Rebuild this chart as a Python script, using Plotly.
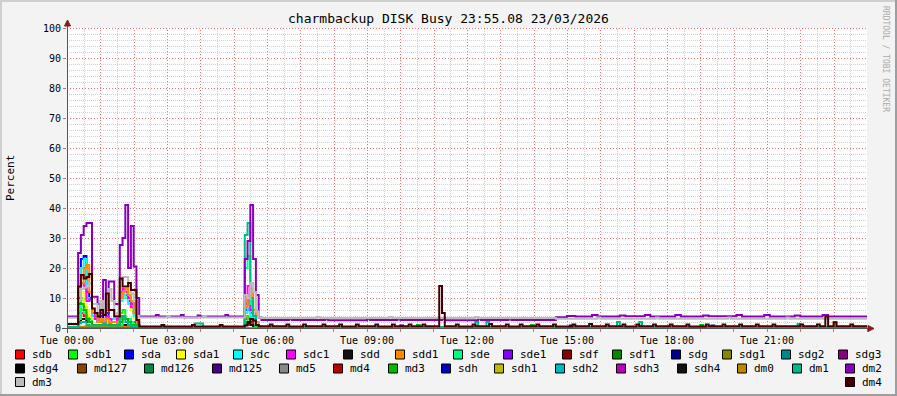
import plotly.graph_objects as go

# ---------------- data (5-minute steps, 288 per day) ----------------
STEP_MINUTES = 5
N_STEPS = 288

x_tick_hours = [0, 3, 6, 9, 12, 15, 18, 21]
x_tick_labels = ["Tue 00:00", "Tue 03:00", "Tue 06:00", "Tue 09:00",
                 "Tue 12:00", "Tue 15:00", "Tue 18:00", "Tue 21:00"]
y_tick_values = [0, 10, 20, 30, 40, 50, 60, 70, 80, 90, 100]

series_names = ["sdb", "sdb1", "sda", "sda1", "sdc", "sdc1", "sdd", "sdd1",
                "sde", "sde1", "sdf", "sdf1", "sdg", "sdg1", "sdg2", "sdg3",
                "sdg4", "md127", "md126", "md125", "md5", "md4", "md3", "sdh",
                "sdh1", "sdh2", "sdh3", "sdh4", "dm0", "dm1", "dm2", "dm3", "dm4"]
series_colors = ["#FF0000", "#00FF00", "#0000FF", "#FFFF00", "#00FFFF", "#FF00FF", "#111111", "#FF8800",
                 "#00FF88", "#8800FF", "#880000", "#008800", "#000088", "#888800", "#008888", "#880088",
                 "#000000", "#884400", "#008844", "#440088", "#888888", "#BB0000", "#00BB00", "#0000BB",
                 "#BBBB00", "#00BBBB", "#BB00BB", "#111111", "#BB8800", "#00BB88", "#8800BB", "#BBBBBB", "#440000"]

# run-length encoded values: [number of 5-min steps, percent]
sdb_runs = [[4, 0], [1, 3], [1, 5], [1, 4], [2, 2], [10, 1], [1, 4], [2, 3], [3, 1], [1, 0],
            [38, 0], [1, 3], [1, 4], [1, 2], [3, 0.5], [218, 0]]
sdb1_runs = [[4, 0.2], [1, 5], [1, 10], [1, 7], [1, 4], [1, 3], [3, 1], [1, 2], [2, 1], [1, 1.5], [3, 0.8],
             [1, 5], [1, 6], [2, 3], [1, 2], [2, 0.5], [38, 0], [1, 2], [1, 4], [1, 1], [3, 0.3], [218, 0]]
sda_runs = [[4, 0], [1, 8], [1, 23], [1, 24], [1, 12], [1, 10], [2, 4], [1, 2], [1, 4], [1, 2], [1, 5], [3, 3],
            [1, 1], [1, 10], [1, 12], [1, 11], [1, 9], [1, 8], [1, 5], [1, 1], [38, 0],
            [1, 6], [1, 9], [1, 5], [1, 4], [1, 1], [1, 0.3], [218, 0]]
sda1_runs = [[4, 0], [1, 10], [1, 12], [1, 8], [1, 6], [1, 4], [2, 3], [1, 1], [1, 3], [1, 2], [1, 4], [3, 2],
             [1, 1], [1, 14], [1, 12], [1, 10], [1, 8], [1, 6], [1, 3], [1, 1], [38, 0],
             [1, 11], [1, 7], [1, 4], [1, 3], [1, 1], [1, 0], [218, 0]]
sdc_runs = [[4, 0], [1, 7], [1, 20], [1, 23], [1, 10], [1, 9], [2, 4], [1, 2], [1, 3], [1, 2], [1, 4], [3, 3],
            [1, 1], [1, 9], [1, 11], [1, 10], [1, 8], [1, 7], [1, 4], [1, 1], [38, 0],
            [1, 5], [1, 8], [1, 4], [1, 3], [1, 1], [1, 0.3], [218, 0]]
sdc1_runs = [[4, 0], [1, 10], [1, 15], [1, 14], [1, 9], [1, 9.5], [1, 5], [1, 3], [1, 2], [1, 3], [1, 2], [1, 4],
             [1, 3], [1, 2], [1, 2], [1, 3], [1, 12], [1, 13], [1, 12], [1, 10], [1, 7], [1, 9], [1, 2],
             [38, 0], [1, 8], [1, 14], [1, 6], [1, 4], [1, 1], [1, 0], [218, 0]]
sdd_runs = [[4, 0], [1, 2], [2, 3], [2, 2], [13, 1], [3, 2], [1, 0.5], [38, 0],
            [1, 1], [1, 2], [1, 1], [3, 0], [218, 0]]
sdd1_runs = [[4, 0], [1, 9], [1, 15], [1, 20], [1, 21], [1, 12], [2, 5], [1, 2], [1, 3], [1, 2], [1, 3], [3, 2],
             [1, 1], [1, 10], [1, 12], [1, 13], [1, 11], [1, 9], [1, 5], [1, 1], [38, 0],
             [1, 7], [1, 10], [1, 13], [1, 6], [1, 2], [1, 0], [218, 0]]
sde_runs = [[4, 0.2], [1, 3], [1, 6], [1, 5], [1, 3], [1, 2], [11, 1], [3, 3], [1, 2], [1, 1], [1, 0.5],
            [38, 0.2], [1, 20], [1, 24], [1, 8], [1, 4], [1, 1], [1, 0.2], [218, 0.2]]
sde1_runs = [[288, 0]]
sdf_runs = [[288, 0]]
sdf1_runs = [[288, 0]]
sdg_runs = [[288, 0]]
sdg1_runs = [[288, 0]]
sdg2_runs = [[288, 0]]
sdg3_runs = [[288, 0]]
sdg4_runs = [[288, 0]]
md127_runs = [[288, 0]]
md126_runs = [[288, 0]]
md125_runs = [[288, 0]]
md5_runs = [[288, 0]]
md4_runs = [[288, 0]]
md3_runs = [[4, 0], [1, 10], [1, 8], [1, 6], [1, 3], [1, 2], [10, 1], [1, 2], [1, 3.8], [1, 3], [1, 2], [3, 1],
            [100, 0], [1, 1], [40, 0], [1, 1], [60, 0], [1, 1], [59, 0]]
sdh_runs = [[120, 0], [1, 0.8], [60, 0], [1, 0.8], [50, 0], [1, 0.8], [55, 0]]
sdh1_runs = [[288, 0]]
sdh2_runs = [[288, 0]]
sdh3_runs = [[288, 0]]
sdh4_runs = [[288, 0]]
dm0_runs = [[26, 0.4], [250, 0], [1, 1.9], [11, 0]]
dm1_runs = [[4, 0.3],
            [1, 1.5], [2, 2], [1, 1], [5, 0.8], [1, 1.5], [5, 0.8], [2, 3.8], [1, 2], [1, 1], [3, 0.6],
            [20, 0.3], [3, 1.5], [15, 0.3],
            [1, 31], [1, 35], [1, 10], [1, 4], [1, 1], [1, 0.3],
            [77, 0.3], [1, 2], [3, 0.3], [1, 2], [24, 0.3],
            [22, 0.3], [1, 2], [7, 0.3], [1, 2], [56, 0.3], [1, 1.3], [24, 0.3]]
dm2_runs = [[4, 3.8], [1, 25], [1, 31], [1, 34], [2, 35], [2, 10.4], [1, 8], [1, 5], [1, 16], [1, 5],
            [2, 15.5], [2, 8], [1, 27.7], [1, 30], [1, 41], [1, 20], [1, 34], [1, 20.5], [1, 10],
            [6, 3.8], [1, 4.3], [8, 3.8], [1, 4.3], [5, 3.6], [1, 4.2], [9, 3.8], [1, 4.3], [5, 3.8],
            [1, 3.8], [1, 23], [1, 29], [1, 41], [1, 23], [1, 11], [1, 3.5],
            [10, 2.7], [1, 3.1], [12, 2.7], [1, 3.1], [14, 2.6], [1, 3.1], [10, 2.7], [1, 3.2], [15, 2.7],
            [1, 3.1], [12, 2.6], [1, 3.1], [10, 2.7], [1, 3.2], [16, 2.7],
            [4, 3.6], [3, 4.0], [6, 3.8], [2, 4.3], [8, 3.8], [2, 4.2], [7, 3.9], [2, 4.3], [9, 3.8],
            [2, 4.3], [8, 3.8], [2, 4.2], [10, 3.9], [2, 4.3], [8, 3.8], [2, 4.3], [9, 3.8], [2, 4.2],
            [8, 3.8], [2, 4.3], [14, 3.8]]
dm3_runs = [[4, 3.4],
            [1, 9], [1, 13], [1, 13.5], [1, 14], [1, 15], [2, 8], [1, 4], [1, 9], [1, 5], [1, 9], [1, 13],
            [1, 9], [1, 4], [1, 5], [1, 16], [2, 17], [1, 14], [1, 11.5], [1, 9], [1, 4],
            [10, 3.5], [1, 3.9], [12, 3.5], [1, 3.9], [14, 3.5],
            [1, 11], [1, 10], [1, 15], [1, 12], [1, 5.5], [1, 3.6],
            [20, 3.3], [1, 3.7], [25, 3.3], [1, 3.7], [30, 3.3], [1, 3.7], [28, 3.3],
            [15, 3.1], [1, 3.5], [20, 3.1], [1, 3.5], [25, 3.1], [1, 3.5], [20, 3.1], [1, 3.5], [28, 3.1]]
dm4_runs = [[4, 1.3],
            [1, 13.8], [1, 17.7], [1, 16.5], [1, 17], [1, 18], [1, 6.5], [1, 5], [1, 3.8], [1, 6], [1, 4.3],
            [1, 11.5], [2, 6], [2, 3.8], [1, 16.5], [2, 13.8], [1, 15], [2, 12.7], [1, 2.7],
            [8, 0.5], [1, 1], [10, 0.5], [1, 1], [9, 0.5], [1, 1], [8, 0.5],
            [1, 0.8], [1, 1.5], [1, 3], [1, 2.5], [1, 1], [1, 0.6],
            [3, 0.6], [1, 1.2], [5, 0.6], [1, 1.2], [5, 0.5], [1, 1.2], [6, 0.6], [1, 1.2], [5, 0.6], [1, 1.2],
            [5, 0.5], [1, 1.2], [6, 0.6], [1, 1.2], [5, 0.5], [1, 1.2], [5, 0.6], [1, 1.2], [4, 0.6], [1, 1.2],
            [5, 0.6],
            [1, 14], [1, 5],
            [4, 0.6], [1, 1.2], [5, 0.5], [1, 1.2], [5, 0.6], [1, 1.3], [5, 0.6], [1, 1.2], [4, 0.5], [1, 1.2],
            [5, 0.6], [1, 1.2], [5, 0.6], [1, 1.2], [6, 0.5], [1, 1.2], [5, 0.6], [1, 1.3], [5, 0.6], [1, 1.2],
            [5, 0.6], [1, 1.2], [4, 0.5], [1, 1.2], [5, 0.6], [1, 1.2], [5, 0.6], [1, 1.2], [5, 0.6], [1, 1.2],
            [6, 0.5], [1, 1.2], [5, 0.6], [1, 1.2], [5, 0.6], [1, 1.2], [5, 0.6], [1, 1.2], [5, 0.6], [1, 1.2],
            [4, 0.6], [5, 0.6], [1, 1.2], [5, 0.6], [1, 1.2], [2, 0.6],
            [1, 3.8], [2, 0.6], [1, 1.9], [5, 0.6], [1, 1.2], [5, 0.6]]

series_runs = [sdb_runs, sdb1_runs, sda_runs, sda1_runs, sdc_runs, sdc1_runs, sdd_runs, sdd1_runs,
               sde_runs, sde1_runs, sdf_runs, sdf1_runs, sdg_runs, sdg1_runs, sdg2_runs, sdg3_runs,
               sdg4_runs, md127_runs, md126_runs, md125_runs, md5_runs, md4_runs, md3_runs, sdh_runs,
               sdh1_runs, sdh2_runs, sdh3_runs, sdh4_runs, dm0_runs, dm1_runs, dm2_runs, dm3_runs, dm4_runs]


def expand(runs, name):
    vals = []
    for count, v in runs:
        vals.extend([v] * count)
    if len(vals) != N_STEPS:
        print("length mismatch", name, len(vals))
        vals = (vals + [vals[-1]] * N_STEPS)[:N_STEPS]
    return vals


x_hours = [i * STEP_MINUTES / 60 for i in range(N_STEPS)] + [24]

fig = go.Figure()
for name, color, runs in zip(series_names, series_colors, series_runs):
    vals = expand(runs, name)
    fig.add_trace(go.Scatter(x=x_hours, y=vals + [vals[-1]], mode="lines", name=name,
                             line=dict(color=color, width=2, shape="hv"), hoverinfo="skip"))

# ---------------- layout ----------------
W, H = 897, 396
L, R, T, B = 67, 867, 28, 328


def px(x):
    return (x - L) / (R - L)


def py(y):
    return (B - y) / (B - T)


hour_ticks = list(range(0, 25))
hour_text = [x_tick_labels[x_tick_hours.index(h)] if h in x_tick_hours else "" for h in hour_ticks]

MONO = "DejaVu Sans Mono"
major_grid = "rgb(240,115,115)"
minor_grid = "rgb(210,210,210)"

fig.update_layout(
    width=W, height=H,
    margin=dict(l=L, r=W - R, t=T, b=H - B),
    paper_bgcolor="#F3F3F3", plot_bgcolor="#FFFFFF",
    showlegend=False,
    font=dict(family=MONO, size=10, color="#000000"),
    xaxis=dict(range=[0, 24], tickmode="array", tickvals=hour_ticks, ticktext=hour_text,
               showgrid=False, ticks="outside", ticklen=3, tickcolor="rgba(210,80,80,0.8)",
               zeroline=False, showline=False, fixedrange=True,
               tickfont=dict(family=MONO, size=10)),
    yaxis=dict(range=[0, 100], tickmode="array", tickvals=y_tick_values,
               ticktext=[str(v) for v in y_tick_values],
               showgrid=False, ticks="outside", ticklen=3, tickcolor="rgba(210,80,80,0.8)",
               zeroline=False, showline=False, fixedrange=True,
               tickfont=dict(family=MONO, size=10)),
)

shapes = []
# grid, aligned to pixel centres (drawn below traces): minor first, then major
grid_specs = []
for m in range(1, 48):
    gx = round(L + (m / 2) * (R - L) / 24) + 0.5
    grid_specs.append(("v", gx, m % 2 == 0))
for v in range(2, 101, 2):
    gy = round(B - v * (B - T) / 100) + 0.5
    grid_specs.append(("h", gy, v % 10 == 0))
grid_specs.sort(key=lambda s: s[2])
for orient, pos, major in grid_specs:
    col = major_grid if major else minor_grid
    dash = "1px,2px" if major else "1px,1px"
    if orient == "v":
        shapes.append(dict(type="line", xref="paper", yref="paper", x0=px(pos), x1=px(pos), y0=0, y1=1,
                           layer="below", line=dict(color=col, width=1, dash=dash)))
    else:
        shapes.append(dict(type="line", xref="paper", yref="paper", x0=0, x1=1, y0=py(pos), y1=py(pos),
                           layer="below", line=dict(color=col, width=1, dash=dash)))
# frame
shapes.append(dict(type="rect", xref="paper", yref="paper", x0=px(0), x1=px(W), y0=py(H), y1=py(H - 2),
                   fillcolor="#9E9E9E", line=dict(width=0), layer="above"))
shapes.append(dict(type="rect", xref="paper", yref="paper", x0=px(W - 2), x1=px(W), y0=py(H), y1=py(0),
                   fillcolor="#9E9E9E", line=dict(width=0), layer="above"))
shapes.append(dict(type="rect", xref="paper", yref="paper", x0=px(0), x1=px(W - 2), y0=py(2), y1=py(0),
                   fillcolor="#CFCFCF", line=dict(width=0), layer="above"))
shapes.append(dict(type="rect", xref="paper", yref="paper", x0=px(0), x1=px(2), y0=py(H - 2), y1=py(0),
                   fillcolor="#CFCFCF", line=dict(width=0), layer="above"))
# axes
shapes.append(dict(type="line", xref="paper", yref="paper", x0=px(62), x1=px(869), y0=py(328.5), y1=py(328.5),
                   line=dict(color="#555555", width=1), layer="above"))
shapes.append(dict(type="line", xref="paper", yref="paper", x0=px(67.5), x1=px(67.5), y0=py(333), y1=py(24),
                   line=dict(color="#555555", width=1), layer="above"))
# arrows
shapes.append(dict(type="path", xref="paper", yref="paper",
                   path=f"M {px(868)} {py(325.5)} L {px(874)} {py(328.5)} L {px(868)} {py(331.5)} Z",
                   fillcolor="#8B1A1A", line=dict(color="#8B1A1A", width=1), layer="above"))
shapes.append(dict(type="path", xref="paper", yref="paper",
                   path=f"M {px(64.5)} {py(26)} L {px(67.5)} {py(20)} L {px(70.5)} {py(26)} Z",
                   fillcolor="#8B1A1A", line=dict(color="#8B1A1A", width=1), layer="above"))

annotations = []
annotations.append(dict(text="charmbackup DISK Busy 23:55.08 23/03/2026", xref="paper", yref="paper",
                        x=px(448), y=py(19), xanchor="center", yanchor="middle", showarrow=False,
                        font=dict(family=MONO, size=13, color="#000000")))
annotations.append(dict(text="Percent", xref="paper", yref="paper", x=px(10), y=py(178),
                        xanchor="center", yanchor="middle", textangle=-90, showarrow=False,
                        font=dict(family=MONO, size=11, color="#000000")))
annotations.append(dict(text="RRDTOOL / TOBI OETIKER", xref="paper", yref="paper", x=px(886), y=py(59),
                        xanchor="center", yanchor="middle", textangle=90, showarrow=False,
                        font=dict(family=MONO, size=8, color="#AAAAAA")))

# legend layout (positions in pixels)
legend_rows_y = [354.5, 368.5, 382]
legend_x = [
    [15, 68, 124, 176, 233, 286, 343, 395, 453, 503, 562, 612, 671, 722, 781, 838],
    [15, 77, 144, 212, 279, 333, 388, 441, 494, 555, 616, 677, 737, 792, 845],
    [15, 845],
]
k = 0
for row, xs in enumerate(legend_x):
    cy = legend_rows_y[row]
    for sx in xs:
        name, color = series_names[k], series_colors[k]
        k += 1
        shapes.append(dict(type="rect", xref="paper", yref="paper",
                           x0=px(sx + 0.5), x1=px(sx + 9.5), y0=py(cy + 4.5), y1=py(cy - 4.5),
                           fillcolor=color, line=dict(color="#000000", width=1), layer="above"))
        annotations.append(dict(text=name, xref="paper", yref="paper", x=px(sx + 15), y=py(cy),
                                xanchor="left", yanchor="middle", showarrow=False,
                                font=dict(family=MONO, size=11, color="#000000")))

fig.update_layout(shapes=shapes, annotations=annotations)
fig.write_html("out.html")
